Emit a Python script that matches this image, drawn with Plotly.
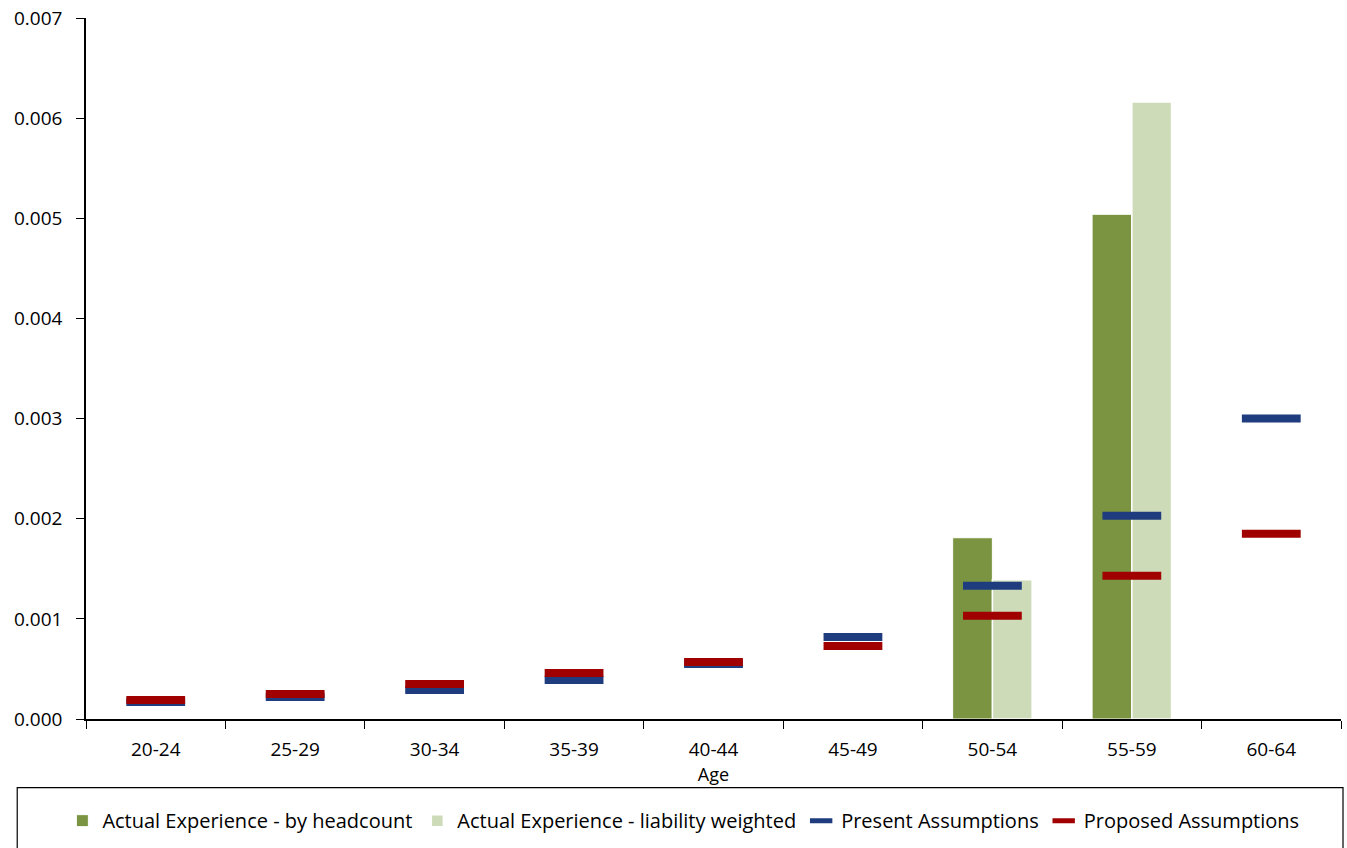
import plotly.graph_objects as go

# Age bands on the x axis
ages = ["20-24", "25-29", "30-34", "35-39", "40-44", "45-49", "50-54", "55-59", "60-64"]

# Observed rates
headcount = [0, 0, 0, 0, 0, 0, 0.00181, 0.00504, 0]
liability_weighted = [0, 0, 0, 0, 0, 0, 0.00139, 0.00616, 0]

# Assumed rates
present = [0.00017, 0.00022, 0.00029, 0.00039, 0.00055, 0.00082, 0.00133, 0.00203, 0.00300]
proposed = [0.00019, 0.00025, 0.00035, 0.00046, 0.00057, 0.00073, 0.00103, 0.00143, 0.00185]

font_family = "'Open Sans', sans-serif"

fig = go.Figure()
fig.add_trace(go.Bar(
    x=ages, y=headcount, name="Actual Experience - by headcount",
    marker=dict(color="#7A9441", line=dict(color="#FFFFFF", width=1)),
))
fig.add_trace(go.Bar(
    x=ages, y=liability_weighted, name="Actual Experience - liability weighted",
    marker=dict(color="#CEDBB8", line=dict(color="#FFFFFF", width=1.5)),
))
fig.add_trace(go.Scatter(
    x=ages, y=present, name="Present Assumptions", mode="markers",
    marker=dict(symbol="line-ew", size=42, line=dict(color="#1F3D7E", width=8)),
))
fig.add_trace(go.Scatter(
    x=ages, y=proposed, name="Proposed Assumptions", mode="markers",
    marker=dict(symbol="line-ew", size=42, line=dict(color="#A10000", width=8)),
))

# Legend frame spanning the width below the plot
fig.add_shape(
    type="rect", xref="paper", yref="paper",
    x0=-0.0548, x1=1.0016, y0=-0.215, y1=-0.098,
    line=dict(color="#000000", width=1.2), fillcolor="rgba(0,0,0,0)",
)

fig.update_layout(
    width=1347, height=848,
    margin=dict(l=86, r=6, t=18, b=129, autoexpand=False),
    paper_bgcolor="white", plot_bgcolor="white",
    barmode="group", bargap=0.43, bargroupgap=0,
    font=dict(family=font_family, size=18, color="#000000"),
    showlegend=True,
    legend=dict(
        orientation="h", x=0.476, xanchor="center", y=-0.145, yanchor="middle",
        font=dict(size=20), bgcolor="rgba(0,0,0,0)", itemwidth=30,
        tracegroupgap=0,
    ),
    xaxis=dict(
        range=[-0.5, 8.5],
        title=dict(text="Age", font=dict(size=18), standoff=0),
        showline=True, linecolor="#000000", linewidth=1.5,
        ticks="outside", tickson="boundaries", ticklen=8, tickcolor="#000000",
        tickfont=dict(size=19), ticklabelstandoff=12,
        showgrid=False, zeroline=False,
    ),
    yaxis=dict(
        range=[0, 0.007], dtick=0.001, tickformat=".3f",
        showline=True, linecolor="#000000", linewidth=1.5,
        ticks="outside", ticklen=8, tickcolor="#000000",
        tickfont=dict(size=19), ticklabelstandoff=10,
        showgrid=False, zeroline=False,
    ),
)

fig.write_html("out.html")
